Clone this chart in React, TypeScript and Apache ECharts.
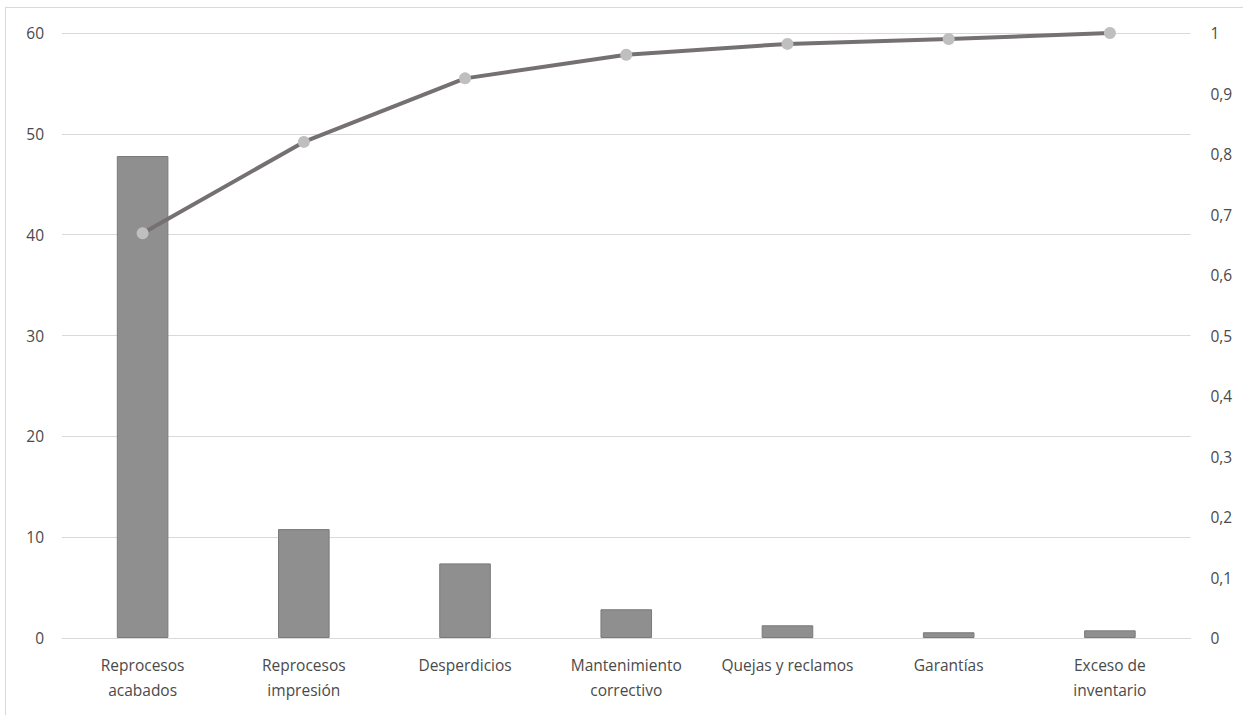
import React, { useEffect, useRef } from "react";
import * as echarts from "echarts";

const categories = [
  "Reprocesos\nacabados",
  "Reprocesos\nimpresión",
  "Desperdicios",
  "Mantenimiento\ncorrectivo",
  "Quejas y reclamos",
  "Garantías",
  "Exceso de\ninventario",
];
const costValues = [47.8, 10.8, 7.4, 2.85, 1.26, 0.57, 0.76];
const cumulativeShare = [0.669, 0.82, 0.925, 0.964, 0.982, 0.99, 1.0];

export default function App() {
  const ref = useRef<HTMLDivElement>(null);
  useEffect(() => {
    if (!ref.current) return;
    const chart = echarts.init(ref.current, null, { renderer: "svg" });
    const font = "Open Sans";
    const labelColor = "#4a4a4a";
    chart.setOption({
      animation: false,
      grid: { left: 62, right: 52.5, top: 33, bottom: 77 },
      xAxis: {
        type: "category",
        data: categories,
        axisLine: { lineStyle: { color: "#d9d9d9", width: 1 } },
        axisTick: { show: false },
        axisLabel: {
          color: labelColor,
          fontFamily: font,
          fontSize: 15.5,
          lineHeight: 25,
          margin: 14,
          interval: 0,
        },
      },
      yAxis: [
        {
          type: "value",
          min: 0,
          max: 60,
          interval: 10,
          axisLine: { show: false },
          axisTick: { show: false },
          splitLine: { lineStyle: { color: "#d9d9d9", width: 1 } },
          axisLabel: { color: labelColor, fontFamily: font, fontSize: 15.5, margin: 18 },
        },
        {
          type: "value",
          min: 0,
          max: 1,
          interval: 0.1,
          axisLine: { show: false },
          axisTick: { show: false },
          splitLine: { show: false },
          axisLabel: {
            color: labelColor,
            fontFamily: font,
            fontSize: 15.5,
            margin: 20,
            formatter: (v: number) => String(+v.toFixed(1)).replace(".", ","),
          },
        },
      ],
      series: [
        {
          type: "bar",
          data: costValues,
          barWidth: "32%",
          itemStyle: { color: "#8f8f8f", borderColor: "#7a7a7a", borderWidth: 1 },
        },
        {
          type: "line",
          yAxisIndex: 1,
          data: cumulativeShare,
          symbol: "circle",
          symbolSize: 12,
          lineStyle: { color: "#767171", width: 4 },
          itemStyle: { color: "#bfbfbf" },
          z: 5,
        },
      ],
    });
    return () => chart.dispose();
  }, []);
  return (
    <div style={{ position: "absolute", left: 0, top: 0, width: 1243, height: 715, background: "#fff" }}>
      <div
        style={{
          position: "absolute",
          left: 5,
          top: 7,
          right: 0,
          bottom: 0,
          borderTop: "1px solid #d9d9d9",
          borderLeft: "1px solid #d9d9d9",
        }}
      />
      <div ref={ref} style={{ position: "absolute", left: 0, top: 0, width: 1243, height: 715 }} />
    </div>
  );
}
